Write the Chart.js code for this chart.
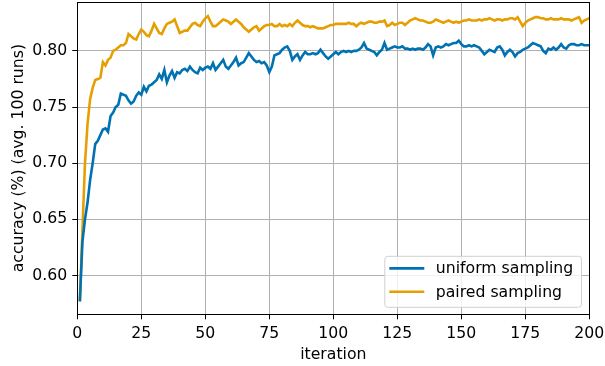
<!DOCTYPE html>
<html>
<head>
<meta charset="utf-8">
<script src="https://cdn.jsdelivr.net/npm/chart.js@4"></script>
<style>
  html, body { margin: 0; padding: 0; background: #fff; }
  #c { display: block; }
</style>
</head>
<body>
<canvas id="c" width="605" height="366"></canvas>
<script>
// iterations 1..200
var iterations = Array.from({length: 200}, function(_, i) { return i + 1; });

var uniformSampling = [
  0.577, 0.630, 0.650, 0.665, 0.685, 0.700, 0.717, 0.720, 0.725, 0.730,
  0.731, 0.728, 0.742, 0.745, 0.750, 0.752, 0.762, 0.761, 0.760, 0.756,
  0.753, 0.755, 0.760, 0.763, 0.761, 0.768, 0.764, 0.769, 0.770, 0.772,
  0.774, 0.779, 0.775, 0.783, 0.772, 0.778, 0.782, 0.776, 0.781, 0.780,
  0.783, 0.784, 0.782, 0.786, 0.783, 0.781, 0.780, 0.785, 0.783, 0.785,
  0.786, 0.784, 0.789, 0.783, 0.786, 0.789, 0.792, 0.786, 0.784, 0.787,
  0.790, 0.794, 0.787, 0.789, 0.790, 0.794, 0.798, 0.795, 0.792, 0.790,
  0.791, 0.789, 0.790, 0.787, 0.781, 0.786, 0.796, 0.797, 0.798, 0.801,
  0.803, 0.804, 0.800, 0.792, 0.795, 0.797, 0.792, 0.796, 0.799, 0.797,
  0.797, 0.798, 0.797, 0.798, 0.801, 0.798, 0.795, 0.793, 0.795, 0.797,
  0.799, 0.797, 0.799, 0.800, 0.799, 0.800, 0.799, 0.800, 0.800, 0.801,
  0.803, 0.807, 0.802, 0.801, 0.800, 0.799, 0.796, 0.799, 0.801, 0.807,
  0.801, 0.802, 0.803, 0.804, 0.803, 0.803, 0.804, 0.802, 0.802, 0.801,
  0.802, 0.801, 0.802, 0.802, 0.801, 0.803, 0.806, 0.804, 0.796, 0.803,
  0.804, 0.803, 0.804, 0.806, 0.805, 0.806, 0.807, 0.807, 0.809, 0.806,
  0.804, 0.804, 0.805, 0.804, 0.805, 0.804, 0.803, 0.800, 0.797, 0.799,
  0.801, 0.800, 0.799, 0.803, 0.804, 0.801, 0.796, 0.799, 0.801, 0.799,
  0.795, 0.798, 0.799, 0.801, 0.802, 0.803, 0.805, 0.807, 0.806, 0.805,
  0.804, 0.800, 0.798, 0.802, 0.801, 0.803, 0.801, 0.803, 0.806, 0.803,
  0.802, 0.805, 0.806, 0.806, 0.805, 0.805, 0.806, 0.805, 0.805, 0.805
];

var pairedSampling = [
  0.577, 0.640, 0.700, 0.735, 0.757, 0.767, 0.774, 0.775, 0.776, 0.790,
  0.787, 0.792, 0.794, 0.800, 0.801, 0.803, 0.805, 0.805, 0.807, 0.815,
  0.813, 0.811, 0.810, 0.815, 0.819, 0.817, 0.814, 0.813, 0.818, 0.824,
  0.820, 0.816, 0.815, 0.820, 0.824, 0.825, 0.826, 0.828, 0.822, 0.816,
  0.817, 0.818, 0.818, 0.821, 0.824, 0.825, 0.823, 0.822, 0.826, 0.829,
  0.831, 0.826, 0.822, 0.822, 0.824, 0.826, 0.828, 0.827, 0.826, 0.824,
  0.826, 0.828, 0.826, 0.824, 0.821, 0.819, 0.817, 0.819, 0.821, 0.822,
  0.818, 0.820, 0.822, 0.823, 0.823, 0.824, 0.822, 0.822, 0.824, 0.822,
  0.823, 0.822, 0.824, 0.822, 0.825, 0.827, 0.825, 0.823, 0.822, 0.822,
  0.821, 0.822, 0.821, 0.820, 0.820, 0.820, 0.821, 0.822, 0.823, 0.823,
  0.824, 0.824, 0.824, 0.824, 0.824, 0.825, 0.824, 0.824, 0.822, 0.824,
  0.825, 0.824, 0.825, 0.826, 0.826, 0.825, 0.825, 0.826, 0.826, 0.827,
  0.822, 0.823, 0.825, 0.823, 0.824, 0.825, 0.825, 0.823, 0.825, 0.827,
  0.828, 0.829, 0.828, 0.827, 0.827, 0.826, 0.825, 0.825, 0.826, 0.828,
  0.827, 0.826, 0.825, 0.826, 0.827, 0.826, 0.825, 0.826, 0.825, 0.826,
  0.827, 0.827, 0.828, 0.827, 0.827, 0.827, 0.828, 0.827, 0.828, 0.828,
  0.829, 0.828, 0.827, 0.828, 0.828, 0.827, 0.828, 0.828, 0.829, 0.829,
  0.828, 0.830, 0.826, 0.822, 0.825, 0.827, 0.828, 0.829, 0.830, 0.830,
  0.829, 0.829, 0.828, 0.828, 0.829, 0.828, 0.828, 0.828, 0.829, 0.828,
  0.828, 0.828, 0.827, 0.828, 0.829, 0.830, 0.825, 0.827, 0.828, 0.829
];

var xTicks = [0, 25, 50, 75, 100, 125, 150, 175, 200];
var yTicks = [0.60, 0.65, 0.70, 0.75, 0.80];

var FONT = "'DejaVu Sans', sans-serif";
var FSIZE = 15.7;

// axes box + legend drawn like matplotlib
var frameAndLegend = {
    id: 'frameAndLegend',
    afterDraw: function(chart) {
        var ctx = chart.ctx;
        var a = chart.chartArea;
        ctx.save();
        ctx.strokeStyle = '#000';
        ctx.lineWidth = 1;
        ctx.strokeRect(Math.round(a.left) + 0.5, Math.round(a.top) + 0.5,
                       Math.round(a.right - a.left), Math.round(a.bottom - a.top));

        // legend
        var bx = a.right - 205, by = a.bottom - 58.5, bw = 196.7, bh = 51;
        ctx.fillStyle = 'rgba(255,255,255,0.8)';
        ctx.strokeStyle = '#d0d0d0';
        ctx.lineWidth = 1;
        ctx.beginPath();
        ctx.roundRect(bx + 0.5, by + 0.5, bw, bh, 3);
        ctx.fill();
        ctx.stroke();

        ctx.font = FSIZE + 'px ' + FONT;
        ctx.textBaseline = 'middle';
        ctx.textAlign = 'left';
        chart.data.datasets.forEach(function(ds, i) {
            var yy = by + 12.6 + i * 23.4;
            ctx.strokeStyle = ds.borderColor;
            ctx.lineWidth = 2.6;
            ctx.beginPath();
            ctx.moveTo(bx + 5, yy);
            ctx.lineTo(bx + 40, yy);
            ctx.stroke();
            ctx.fillStyle = '#000';
            ctx.fillText(ds.label, bx + 51.5, yy + 1);
        });
        ctx.restore();
    }
};

var ctx = document.getElementById('c');

new Chart(ctx, {
    type: 'line',
    data: {
        labels: iterations,
        datasets: [{
            label: 'uniform sampling',
            data: uniformSampling,
            borderColor: '#0072b2',
            borderWidth: 2.6,
            pointRadius: 0,
            tension: 0,
            fill: false
        }, {
            label: 'paired sampling',
            data: pairedSampling,
            borderColor: '#e69f00',
            borderWidth: 2.6,
            pointRadius: 0,
            tension: 0,
            fill: false
        }]
    },
    options: {
        responsive: false,
        devicePixelRatio: 1,
        animation: false,
        layout: { padding: { left: 10, right: 15.7, top: 2, bottom: 1.6 } },
        plugins: {
            legend: { display: false },
            tooltip: { enabled: false }
        },
        scales: {
            x: {
                type: 'linear',
                min: 0,
                max: 200,
                afterBuildTicks: function(scale) {
                    scale.ticks = xTicks.map(function(v) { return { value: v }; });
                },
                afterFit: function(scale) {
                    scale.height = 50.1;
                    scale.paddingLeft = 0;
                    scale.paddingRight = 0;
                },
                grid: { color: '#b0b0b0', lineWidth: 1, tickColor: '#000', tickLength: 5 },
                border: { display: false },
                ticks: {
                    color: '#000',
                    font: { family: FONT, size: FSIZE },
                    padding: 5,
                    maxRotation: 0
                },
                title: {
                    display: true,
                    text: 'iteration',
                    color: '#000',
                    font: { family: FONT, size: FSIZE },
                    padding: 0
                }
            },
            y: {
                min: 0.5655,
                max: 0.8435,
                afterBuildTicks: function(scale) {
                    scale.ticks = yTicks.map(function(v) { return { value: v }; });
                },
                afterFit: function(scale) {
                    scale.width = 67.3;
                    scale.paddingTop = 0;
                    scale.paddingBottom = 0;
                },
                grid: { color: '#b0b0b0', lineWidth: 1, tickColor: '#000', tickLength: 5 },
                border: { display: false },
                ticks: {
                    color: '#000',
                    font: { family: FONT, size: FSIZE },
                    padding: 5,
                    callback: function(v) { return Number(v).toFixed(2); }
                },
                title: {
                    display: true,
                    text: 'accuracy (%) (avg. 100 runs)',
                    color: '#000',
                    font: { family: FONT, size: FSIZE },
                    padding: 0
                }
            }
        }
    },
    plugins: [frameAndLegend]
});
</script>
</body>
</html>
